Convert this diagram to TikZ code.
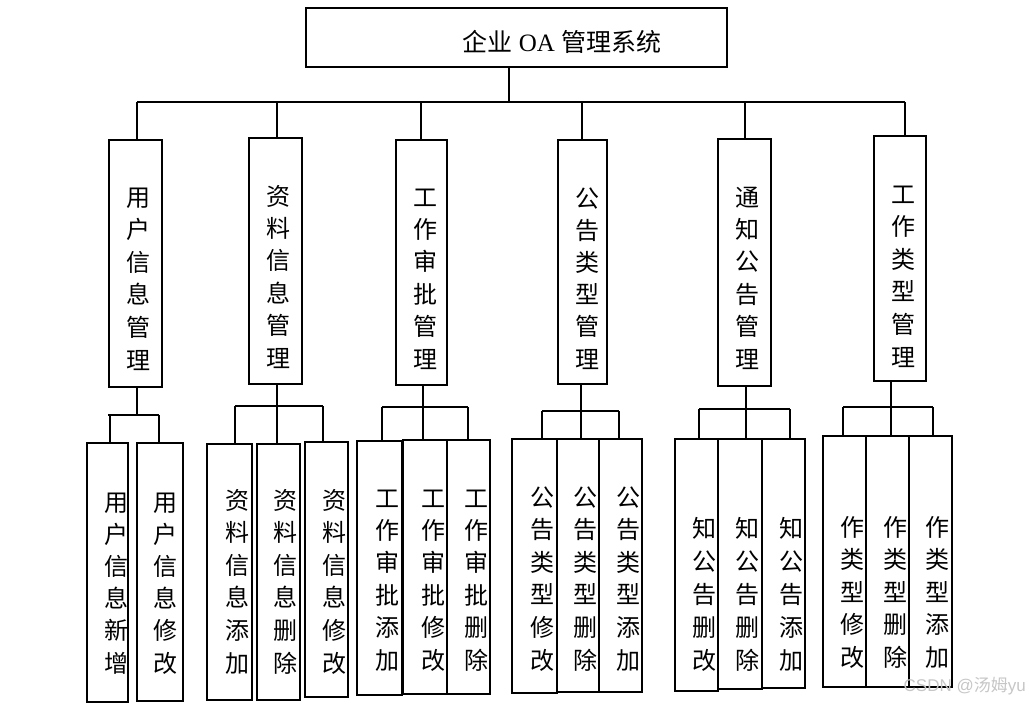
\documentclass[tikz,border=0pt]{standalone}
\usepackage{fontspec}
\setmainfont{Liberation Serif}
\newfontfamily\cjk{Noto Sans CJK SC}
\newfontfamily\wmfont{Liberation Sans}
\newcommand\bx[5]{\node[bx, minimum width={(#4-#2)*1pt}, minimum height={(#5-#3)*1pt}] (#1) at (#2,#3) {};}
\newcommand\vt[5]{\foreach \ch [count=\i] in {#5} {\node[chr] (#1-\i) at (#2,{#3+(\i-1)*#4}) {\ch};}}
\begin{document}
\begin{tikzpicture}[x=1pt,y=-1pt,
  bx/.style={draw, line width=1.8pt, inner sep=0pt, outer sep=0pt, anchor=north west},
  chr/.style={font=\cjk\fontsize{24}{24}\selectfont, inner sep=0pt, text height=21.1pt, text depth=2.9pt},
  ln/.style={line width=1.8pt}]
\useasboundingbox (0,0) rectangle (1029,705);
% top
\bx{top}{306}{8}{727}{67}
\node[font=\fontsize{25}{25}\selectfont, inner sep=0pt] (title) at (562,42) {{\cjk 企业} OA {\cjk 管理系统}};
% level 2
\bx{l1}{109}{140}{162}{387}
\bx{l2}{249}{138}{302}{384}
\bx{l3}{396}{140}{447}{385}
\bx{l4}{558}{140}{607}{384}
\bx{l5}{718}{139}{771}{386}
\bx{l6}{874}{136}{926}{381}
\vt{t1}{138}{197}{32.6}{用,户,信,息,管,理}
\vt{t2}{278}{196}{32.4}{资,料,信,息,管,理}
\vt{t3}{425}{197}{32.4}{工,作,审,批,管,理}
\vt{t4}{587}{198}{32.2}{公,告,类,型,管,理}
\vt{t5}{747}{197}{32.4}{通,知,公,告,管,理}
\vt{t6}{903}{194}{32.6}{工,作,类,型,管,理}
% level 3
\bx{a1}{87}{443}{128}{702}
\bx{a2}{137}{443}{183}{701}
\bx{b1}{207}{444}{252}{700}
\bx{b2}{257}{444}{300}{700}
\bx{b3}{305}{442}{348}{697}
\bx{c1}{357}{441}{402}{695}
\bx{c2}{403}{440}{447}{694}
\bx{c3}{447}{440}{490}{694}
\bx{d1}{512}{439}{557}{693}
\bx{d2}{557}{439}{599}{692}
\bx{d3}{599}{439}{642}{692}
\bx{e1}{675}{439}{718}{691}
\bx{e2}{718}{439}{762}{689}
\bx{e3}{762}{439}{805}{688}
\bx{f1}{823}{436}{866}{687}
\bx{f2}{866}{436}{909}{687}
\bx{f3}{909}{436}{952}{687}
\vt{ta1}{116}{502}{32.2}{用,户,信,息,新,增}
\vt{ta2}{165}{502}{32.2}{用,户,信,息,修,改}
\vt{tb1}{237}{500}{32.6}{资,料,信,息,添,加}
\vt{tb2}{285}{500}{32.6}{资,料,信,息,删,除}
\vt{tb3}{334}{500}{32.6}{资,料,信,息,修,改}
\vt{tc1}{387}{498}{32.4}{工,作,审,批,添,加}
\vt{tc2}{433}{498}{32.4}{工,作,审,批,修,改}
\vt{tc3}{476}{498}{32.4}{工,作,审,批,删,除}
\vt{td1}{542}{497}{32.6}{公,告,类,型,修,改}
\vt{td2}{585}{497}{32.6}{公,告,类,型,删,除}
\vt{td3}{628}{497}{32.6}{公,告,类,型,添,加}
\vt{te1}{704}{528}{33}{知,公,告,删,改}
\vt{te2}{747}{528}{33}{知,公,告,删,除}
\vt{te3}{791}{528}{33}{知,公,告,添,加}
\vt{tf1}{852}{527}{32.5}{作,类,型,修,改}
\vt{tf2}{895}{527}{32.5}{作,类,型,删,除}
\vt{tf3}{937}{527}{32.5}{作,类,型,添,加}
% main bus
\coordinate (bus0) at (509,102);
\coordinate (busL) at (137,102);
\coordinate (busR) at (905,102);
\draw[ln] (top.south -| bus0) -- (bus0);
\draw[ln] (busL) -- (busR);
\foreach \n/\x in {l1/137,l2/277,l3/421,l4/582,l5/745,l6/905}
  {\coordinate (d\n) at (\x,102); \draw[ln] (d\n) -- (d\n |- \n.north);}
% group buses
\foreach \p/\y/\xp/\xl/\xr in {l1/415/137/108/159, l2/406/277/235/323, l3/407/423/382/468, l4/411/581/542/619, l5/409/746/699/790, l6/407/891/843/933}
  {\coordinate (g\p) at (\xp,\y);
   \draw[ln] (g\p |- \p.south) -- (g\p);
   \coordinate (gl\p) at (\xl,\y); \coordinate (gr\p) at (\xr,\y);
   \draw[ln] (gl\p) -- (gr\p);}
\coordinate (ga1) at (110,415);
\draw[ln] (ga1) -- (ga1 |- a1.north);
\draw[ln] (grl1) -- (grl1 |- a2.north);
\foreach \c/\g/\k in {b1/l2/gl, b3/l2/gr, c1/l3/gl, c3/l3/gr, d1/l4/gl, d3/l4/gr, e1/l5/gl, e3/l5/gr, f1/l6/gl, f3/l6/gr}
  {\draw[ln] (\k\g) -- (\k\g |- \c.north);}
\foreach \c/\g in {b2/l2, c2/l3, d2/l4, e2/l5, f2/l6}
  {\draw[ln] (g\g) -- (g\g |- \c.north);}
% watermark
\node[font=\wmfont\fontsize{17}{17}\selectfont, text=gray!45, anchor=east, inner sep=0pt] (wm) at (1026,686) {CSDN @{\cjk 汤姆}yu};
\end{tikzpicture}
\end{document}
